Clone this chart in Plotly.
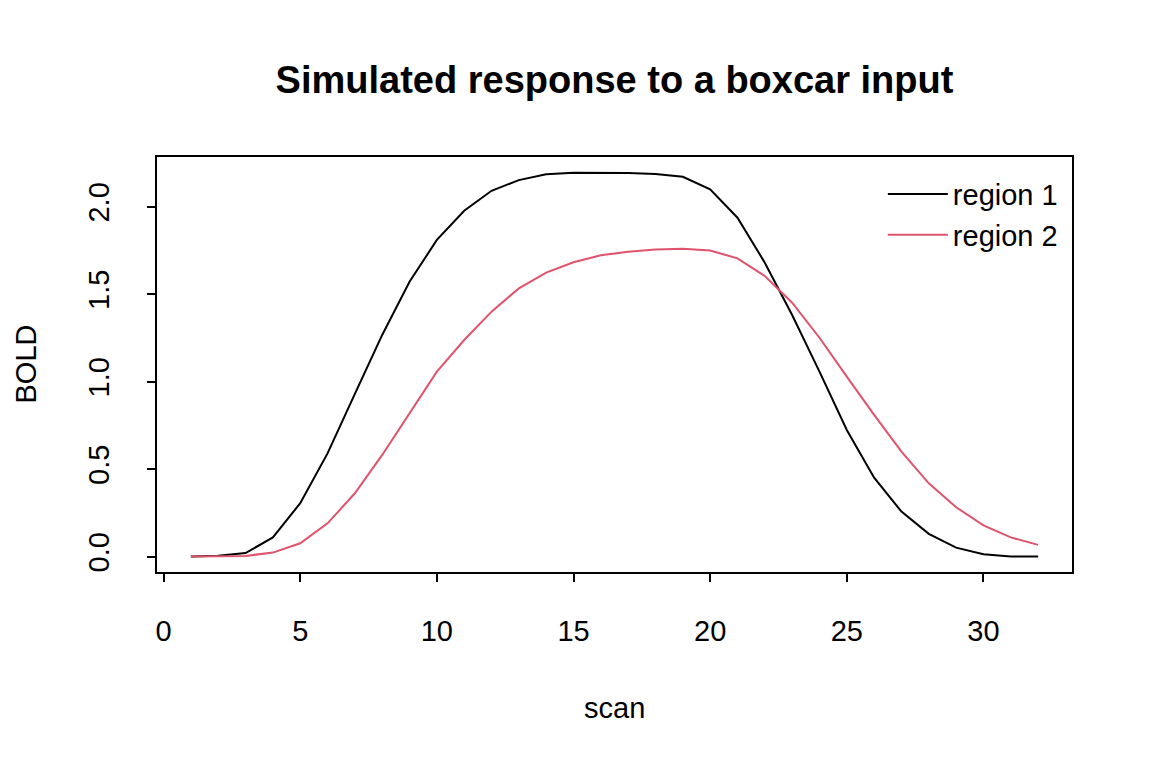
import plotly.graph_objects as go

# scan number and simulated BOLD response per region
scan = list(range(1, 33))

region1 = [0.00, 0.005, 0.02, 0.11, 0.305, 0.59, 0.93, 1.267, 1.571, 1.81,
           1.977, 2.091, 2.152, 2.185, 2.194, 2.194, 2.192, 2.187, 2.171, 2.099,
           1.937, 1.68, 1.381, 1.057, 0.724, 0.451, 0.257, 0.13, 0.051, 0.013,
           0.0, 0.0]

region2 = [0.00, 0.00, 0.004, 0.023, 0.076, 0.19, 0.362, 0.581, 0.819, 1.057,
           1.238, 1.40, 1.533, 1.623, 1.682, 1.722, 1.743, 1.756, 1.76, 1.749,
           1.705, 1.604, 1.451, 1.251, 1.029, 0.81, 0.60, 0.419, 0.282, 0.179,
           0.11, 0.067]

x_ticks = [0, 5, 10, 15, 20, 25, 30]
y_ticks = [0.0, 0.5, 1.0, 1.5, 2.0]
y_labels = ["0.0", "0.5", "1.0", "1.5", "2.0"]

font = "Liberation Sans, Arial, sans-serif"

fig = go.Figure()
fig.add_trace(go.Scatter(x=scan, y=region1, mode="lines", name="region 1",
                         line=dict(color="black", width=2)))
fig.add_trace(go.Scatter(x=scan, y=region2, mode="lines", name="region 2",
                         line=dict(color="#DF536B", width=2)))

# page has an 8px body margin, so margins are shifted by that
fig.update_layout(
    width=1152, height=768,
    margin=dict(l=149, r=88, t=149, b=204),
    paper_bgcolor="white", plot_bgcolor="white",
    font=dict(family=font, size=29, color="black"),
    title=dict(text="<b>Simulated response to a boxcar input</b>",
               x=0.5, xref="paper", xanchor="center",
               y=1 - 72 / 768, yref="container", yanchor="middle",
               font=dict(size=38, family=font, color="black")),
    showlegend=True,
    legend=dict(x=0.99, y=0.972, xanchor="right", yanchor="top",
                bgcolor="rgba(0,0,0,0)", font=dict(size=29, family=font),
                tracegroupgap=0, itemwidth=60),
    xaxis=dict(range=[-0.24, 33.24], tickvals=x_ticks, ticks="outside",
               ticklen=8, tickwidth=2, tickcolor="black",
               showline=True, linecolor="black", linewidth=2, mirror=True,
               showgrid=False, zeroline=False, ticklabelstandoff=24),
    yaxis=dict(range=[-0.088, 2.284], tickvals=y_ticks, ticktext=y_labels,
               ticks="outside", ticklen=8, tickwidth=2, tickcolor="black",
               tickangle=-90,
               showline=True, linecolor="black", linewidth=2, mirror=True,
               showgrid=False, zeroline=False, ticklabelstandoff=26),
    annotations=[
        dict(text="scan", xref="paper", yref="paper", x=0.5, y=-(708 - 572) / 415,
             xanchor="center", yanchor="middle", showarrow=False,
             font=dict(size=29, family=font)),
        dict(text="BOLD", xref="paper", yref="paper", x=(25 - 157) / 915, y=0.5,
             xanchor="center", yanchor="middle", textangle=-90, showarrow=False,
             font=dict(size=29, family=font)),
    ],
)

fig.write_html("out.html")
